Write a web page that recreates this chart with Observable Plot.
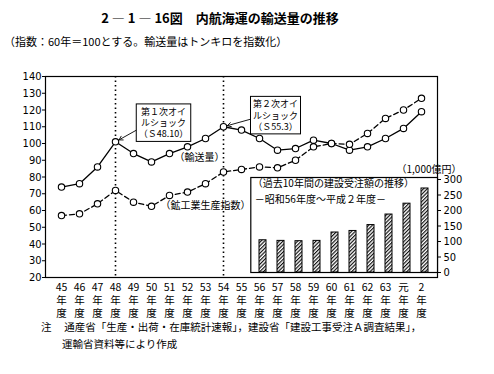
<!DOCTYPE html>
<html><head><meta charset="utf-8">
<script src="https://cdn.jsdelivr.net/npm/d3@7"></script>
<script src="https://cdn.jsdelivr.net/npm/@observablehq/plot@0.6"></script>
<style>
body{margin:0;background:#fff;}
#wrap{position:relative;width:494px;height:374px;overflow:hidden;font-family:"Noto Sans CJK JP",sans-serif;color:#000}
#title{position:absolute;top:8px;left:0;width:440px;text-align:center;font-size:13px;font-weight:bold;white-space:nowrap}
#sub{position:absolute;top:33px;left:4px;font-size:11px;white-space:nowrap}
.plot{position:absolute;left:0;top:60px}
#cap{position:absolute;top:318px;left:41px;font-size:10.5px;line-height:17px;white-space:nowrap}
</style></head>
<body>
<div id="wrap">
  <div id="title">2 ― 1 ― 16図　内航海運の輸送量の推移</div>
  <div id="sub">（指数：60年＝100とする。輸送量はトンキロを指数化）</div>
  <div id="cap">注　 通産省「生産・出荷・在庫統計速報」，建設省「建設工事受注Ａ調査結果」，<br><span style="padding-left:21px">運輸省資料等により作成</span></div>
</div>
<script>
const years = ["45","46","47","48","49","50","51","52","53","54","55","56","57","58","59","60","61","62","63","元","2"];
const transport = [74, 76, 86, 101, 94, 89, 94, 98, 103, 110, 108, 103, 96, 97, 102, 100, 96, 98, 103, 109, 119];
const mining = [57, 58, 64, 72, 65, 62.5, 69, 71, 76, 83, 84.5, 86, 85.5, 90, 98, 100, 99.5, 106, 115, 120, 127];
const barYears = ["56","57","58","59","60","61","62","63","元","2"];
const orders = [104, 102, 101, 102, 129, 134, 153, 187, 222, 271];
const leftTicks = [20,30,40,50,60,70,80,90,100,110,120,130,140];
const rightTicks = [0,50,100,150,200,250,300];
const shockYears = ["48","54"];

const rowsT = years.map((d,i)=>({year:d, v:transport[i]}));
const rowsM = years.map((d,i)=>({year:d, v:mining[i]}));
const rowsB = barYears.map((d,i)=>({year:d, v:orders[i]}));

const jp = "'Noto Sans CJK JP', sans-serif";
const W = 494, H = 262;

const main = Plot.plot({
  width: W, height: H,
  marginLeft: 45, marginRight: 57, marginTop: 16, marginBottom: 45,
  x: {type: "point", domain: years, padding: 0.5},
  y: {domain: [20, 140]},
  style: {fontFamily: jp, fontSize: "11px", background: "transparent", color: "#000", overflow: "visible"},
  marks: [
    Plot.frame({stroke: "#000", strokeWidth: 1.2}),
    Plot.axisY({ticks: leftTicks, tickSize: 3, tickPadding: 1, label: null, fontFamily: "'DejaVu Sans Condensed', sans-serif", fontSize: 11}),
    Plot.axisX({tickSize: 0, tickPadding: 4, label: null, tickFormat: d => d + "\n年\n度", lineHeight: 1.25, fontSize: 10.5}),
    Plot.ruleX(shockYears, {stroke: "#000", strokeWidth: 1.6, strokeDasharray: "1.5,3"}),
    Plot.line(rowsT, {x: "year", y: "v", stroke: "#000", strokeWidth: 1.3}),
    Plot.line(rowsM, {x: "year", y: "v", stroke: "#000", strokeWidth: 1.3, strokeDasharray: "5,3"}),
    Plot.dot(rowsT, {x: "year", y: "v", r: 3.2, fill: "white", stroke: "#000", strokeWidth: 1.1}),
    Plot.dot(rowsM, {x: "year", y: "v", r: 3.2, fill: "white", stroke: "#000", strokeWidth: 1.1}),
    Plot.arrow([{a: "50", b: 113, c: "48", d: 101}], {x1: "a", y1: "b", x2: "c", y2: "d", insetEnd: 4, headLength: 7, stroke: "#000", strokeWidth: 0.9}),
    Plot.arrow([{a: "56", b: 116, c: "54", d: 110}], {x1: "a", y1: "b", x2: "c", y2: "d", insetEnd: 4, headLength: 7, stroke: "#000", strokeWidth: 0.9}),
    Plot.text([{x: "51", y: 112.5, t: "第１次オイ\nルショック\n（Ｓ48.10）"}], {x: "x", y: "y", text: "t", dx: -6, fontSize: 9, lineHeight: 1.25}),
    Plot.text([{x: "57", y: 117, t: "第２次オイ\nルショック\n（Ｓ55.3）"}], {x: "x", y: "y", text: "t", dx: -2, fontSize: 9, lineHeight: 1.25}),
    Plot.text([{x: "53", y: 91.5, t: "（輸送量）"}], {x: "x", y: "y", text: "t", dx: -6, fontSize: 10}),
    Plot.text([{x: "53", y: 63, t: "（鉱工業生産指数）"}], {x: "x", y: "y", text: "t", dx: 0, fontSize: 10})
  ]
});
main.classList.add("plot");

const inset = Plot.plot({
  width: W, height: H,
  marginLeft: 250.3, marginRight: 57, marginTop: 119, marginBottom: 50,
  x: {type: "band", domain: barYears, paddingInner: 0.62, paddingOuter: 0.31, axis: null},
  y: {domain: [0, 300]},
  style: {fontFamily: jp, fontSize: "11px", background: "transparent", color: "#000", overflow: "visible"},
  marks: [
    Plot.frame({stroke: "#000", strokeWidth: 1.2, fill: "white", insetTop: -2}),
    Plot.axisY({anchor: "right", ticks: rightTicks, tickSize: 3, tickPadding: 3, label: null, fontFamily: "'DejaVu Sans Condensed', sans-serif", fontSize: 11}),
    Plot.barY(rowsB, {x: "year", y: "v", fill: "url(#hatch)", stroke: "#000", strokeWidth: 1}),
    Plot.text(["（過去10年間の建設受注額の推移）"], {frameAnchor: "top-left", text: d => d, dx: 2, dy: 0, lineAnchor: "top", fontSize: 10}),
    Plot.text(["－昭和56年度～平成２年度－"], {frameAnchor: "top-left", text: d => d, dx: 4, dy: 16, lineAnchor: "top", fontSize: 10}),
    Plot.text(["（1,000億円）"], {frameAnchor: "top-right", text: d => d, dx: 24, dy: -7, textAnchor: "end", lineAnchor: "bottom", fontSize: 10})
  ]
});
inset.classList.add("plot");

d3.select(inset).insert("defs", ":first-child").html(
  '<pattern id="hatch" patternUnits="userSpaceOnUse" width="2.6" height="2.6" patternTransform="rotate(45)">' +
  '<rect width="2.6" height="2.6" fill="white"/><line x1="0.6" y1="0" x2="0.6" y2="2.6" stroke="black" stroke-width="1.1"/></pattern>');

const wrap = document.getElementById("wrap");
wrap.appendChild(main);
wrap.appendChild(inset);

d3.select(main).selectAll("text").each(function() {
  if (!this.textContent.includes("オイ")) return;
  const b = this.getBBox();
  const r = document.createElementNS("http://www.w3.org/2000/svg", "rect");
  r.setAttribute("x", b.x - 2.5);
  r.setAttribute("y", b.y - 1);
  r.setAttribute("width", b.width + 5);
  r.setAttribute("height", b.height + 2);
  r.setAttribute("fill", "white");
  r.setAttribute("stroke", "black");
  r.setAttribute("stroke-width", "1");
  const tr = this.getAttribute("transform");
  if (tr) r.setAttribute("transform", tr);
  this.parentNode.insertBefore(r, this);
});
</script>
</body></html>
